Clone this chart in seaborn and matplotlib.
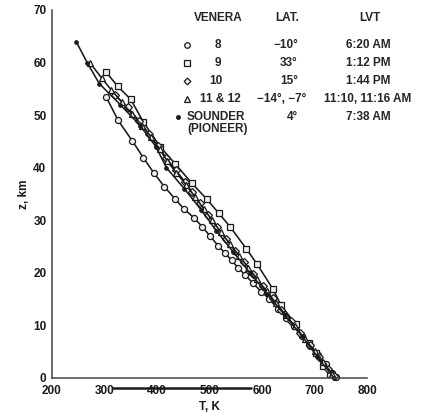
import matplotlib
matplotlib.use("Agg")
import matplotlib.pyplot as plt
import matplotlib.transforms as mtransforms
import seaborn as sns
import pandas as pd

# Temperature profiles of the Venus atmosphere (T in K, z in km)
v8_T = [303, 326, 353, 374, 394, 414, 434, 452, 470, 486, 501, 517, 530, 542, 555, 568,
        583, 599, 614, 630, 645, 660, 676, 692, 707, 721, 733, 741]
v8_z = [53.5, 49.0, 45.1, 41.9, 39.0, 36.4, 34.1, 32.1, 30.5, 28.8, 27.0, 25.1, 23.7, 22.4,
        20.9, 19.6, 18.0, 16.4, 15.0, 13.2, 11.5, 9.8, 8.0, 6.1, 4.3, 2.6, 1.0, 0.1]

v9_T = [303, 325, 350, 374, 406, 434, 466, 495, 518, 539, 570, 591, 621, 636, 664, 690,
        702, 716, 730]
v9_z = [58.2, 55.5, 53.0, 48.7, 44.0, 40.8, 37.1, 34.0, 31.3, 28.8, 24.6, 21.6, 16.9, 13.9,
        10.2, 6.6, 4.8, 2.3, 0.7]

v10_T = [320, 344, 366, 384, 401, 418, 436, 454, 467, 482, 498, 514, 532, 549, 566, 583,
         601, 620, 637, 655, 673, 691, 709, 726, 738]
v10_z = [53.8, 51.5, 48.9, 46.5, 44.2, 41.8, 39.5, 37.2, 35.3, 33.2, 31.0, 28.8, 26.5, 24.2,
         22.0, 19.8, 17.5, 15.2, 13.0, 10.8, 8.5, 6.2, 4.0, 1.8, 0.3]

v11_T = [272, 295, 313, 333, 352, 372, 389, 405, 420, 437, 455, 472, 489, 505, 521, 539,
         557, 574, 591, 609, 627, 645, 663, 681, 700, 717, 734]
v11_z = [60.0, 57.0, 54.8, 52.5, 50.2, 48.0, 45.8, 43.5, 41.2, 39.0, 36.8, 34.5, 32.2, 30.0,
         27.8, 25.5, 23.2, 21.0, 18.8, 16.5, 14.2, 12.0, 9.8, 7.5, 5.2, 3.0, 0.8]

snd_T = [246, 267, 290, 330, 368, 398, 418, 452, 484, 513, 545, 577, 610, 643, 676, 706, 737]
snd_z = [64, 60, 56, 52, 48, 44, 40, 36, 32, 28, 24, 20, 16, 12, 8, 4, 0]

# Legend table rows
leg_venera = ["8", "9", "10", "11 & 12", "SOUNDER"]
leg_lat = ["\u221210\u00b0", "33\u00b0", "15\u00b0", "\u221214\u00b0, \u22127\u00b0", "4\u00b0"]
leg_lvt = ["6:20 AM", "1:12 PM", "1:44 PM", "11:10, 11:16 AM", "7:38 AM"]

x_ticks = [200, 300, 400, 500, 600, 700, 800]
y_ticks = [0, 10, 20, 30, 40, 50, 60, 70]

sns.set_style("white")
plt.rcParams["font.family"] = ["Liberation Sans", "DejaVu Sans"]
plt.rcParams["font.weight"] = "bold"

W, H = 427, 412
fig = plt.figure(figsize=(W / 100, H / 100), dpi=100)
ax = fig.add_axes([52 / W, 1 - 378 / H, 315 / W, 368 / H])

INK = "#1a1a1a"
series = [
    (v8_T, v8_z, "o", 4.4),
    (v9_T, v9_z, "s", 4.4),
    (v10_T, v10_z, "D", 3.8),
    (v11_T, v11_z, "^", 4.4),
]
for T, z, mk, ms in series:
    df = pd.DataFrame({"T": T, "z": z})
    sns.lineplot(data=df, x="T", y="z", sort=False, estimator=None, ax=ax,
                 color=INK, linewidth=1.15, marker=mk, markersize=ms,
                 markerfacecolor="#f0f0f0", markeredgecolor=INK, markeredgewidth=0.9,
                 clip_on=False)

df_s = pd.DataFrame({"T": snd_T, "z": snd_z})
sns.lineplot(data=df_s, x="T", y="z", sort=False, estimator=None, ax=ax,
             color=INK, linewidth=1.15, marker="o", markersize=2.6,
             markerfacecolor=INK, markeredgecolor=INK, clip_on=False)

ax.set_xlim(200, 800)
ax.set_ylim(0, 70)
ax.set_xticks(x_ticks)
ax.set_yticks(y_ticks)
ax.set_xticklabels([str(t) for t in x_ticks], fontsize=8.5, fontweight="bold")
ax.set_yticklabels([str(t) for t in y_ticks], fontsize=8.5, fontweight="bold")
ax.tick_params(axis="both", direction="in", length=5, width=1.0, color="#333333",
               labelcolor=INK)
ax.tick_params(axis="x", pad=5)
ax.tick_params(axis="y", pad=4)
for s in ["top", "right"]:
    ax.spines[s].set_visible(False)
for s in ["left", "bottom"]:
    ax.spines[s].set_color("#444444")
    ax.spines[s].set_linewidth(1.1)
ax.set_xlabel("T, K", fontsize=8.5, fontweight="bold", labelpad=3, color=INK)
ax.set_ylabel("z, km", fontsize=8.5, fontweight="bold", labelpad=2, color=INK)

# pixel-based transform (origin at top-left) for the key table
px = mtransforms.Affine2D().scale(1 / W, -1 / H).translate(0, 1) + fig.transFigure

fs = 8.5
fig.text(218, 18, "VENERA", transform=px, ha="center", va="center", fontsize=fs, fontweight="bold")
fig.text(287, 18, "LAT.", transform=px, ha="center", va="center", fontsize=fs, fontweight="bold")
fig.text(370, 18, "LVT", transform=px, ha="center", va="center", fontsize=fs, fontweight="bold")

rows_y = [45, 63, 81, 99, 117]
venera_x = [218, 218, 216, 200, 187]
venera_ha = ["center", "center", "center", "left", "left"]
lat_x = [286, 289, 289, 282, 292]
key_markers = [("o", 4.0, "#f0f0f0"), ("s", 4.0, "#f0f0f0"), ("D", 3.4, "#f0f0f0"),
               ("^", 4.0, "#f0f0f0"), ("o", 2.6, INK)]
key_mx = [187, 187, 187, 187, 178]

for i, y in enumerate(rows_y):
    mk, ms, fc = key_markers[i]
    fig.add_artist(plt.Line2D([key_mx[i]], [y], transform=px, marker=mk, markersize=ms,
                              markerfacecolor=fc, markeredgecolor=INK, markeredgewidth=0.9,
                              linestyle="none"))
    fig.text(venera_x[i], y, leg_venera[i], transform=px, ha=venera_ha[i], va="center",
             fontsize=fs, fontweight="bold")
    fig.text(lat_x[i], y, leg_lat[i], transform=px, ha="center", va="center",
             fontsize=fs, fontweight="bold")
    fig.text(368, y, leg_lvt[i], transform=px, ha="center", va="center",
             fontsize=fs, fontweight="bold")
fig.text(187, 129, "(PIONEER)", transform=px, ha="left", va="center", fontsize=fs,
         fontweight="bold")

# rule beneath the tick labels
fig.add_artist(plt.Line2D([113, 251], [388, 388], transform=px, color=INK, linewidth=1.8))

fig.savefig("out.png", dpi=100, facecolor="white")
